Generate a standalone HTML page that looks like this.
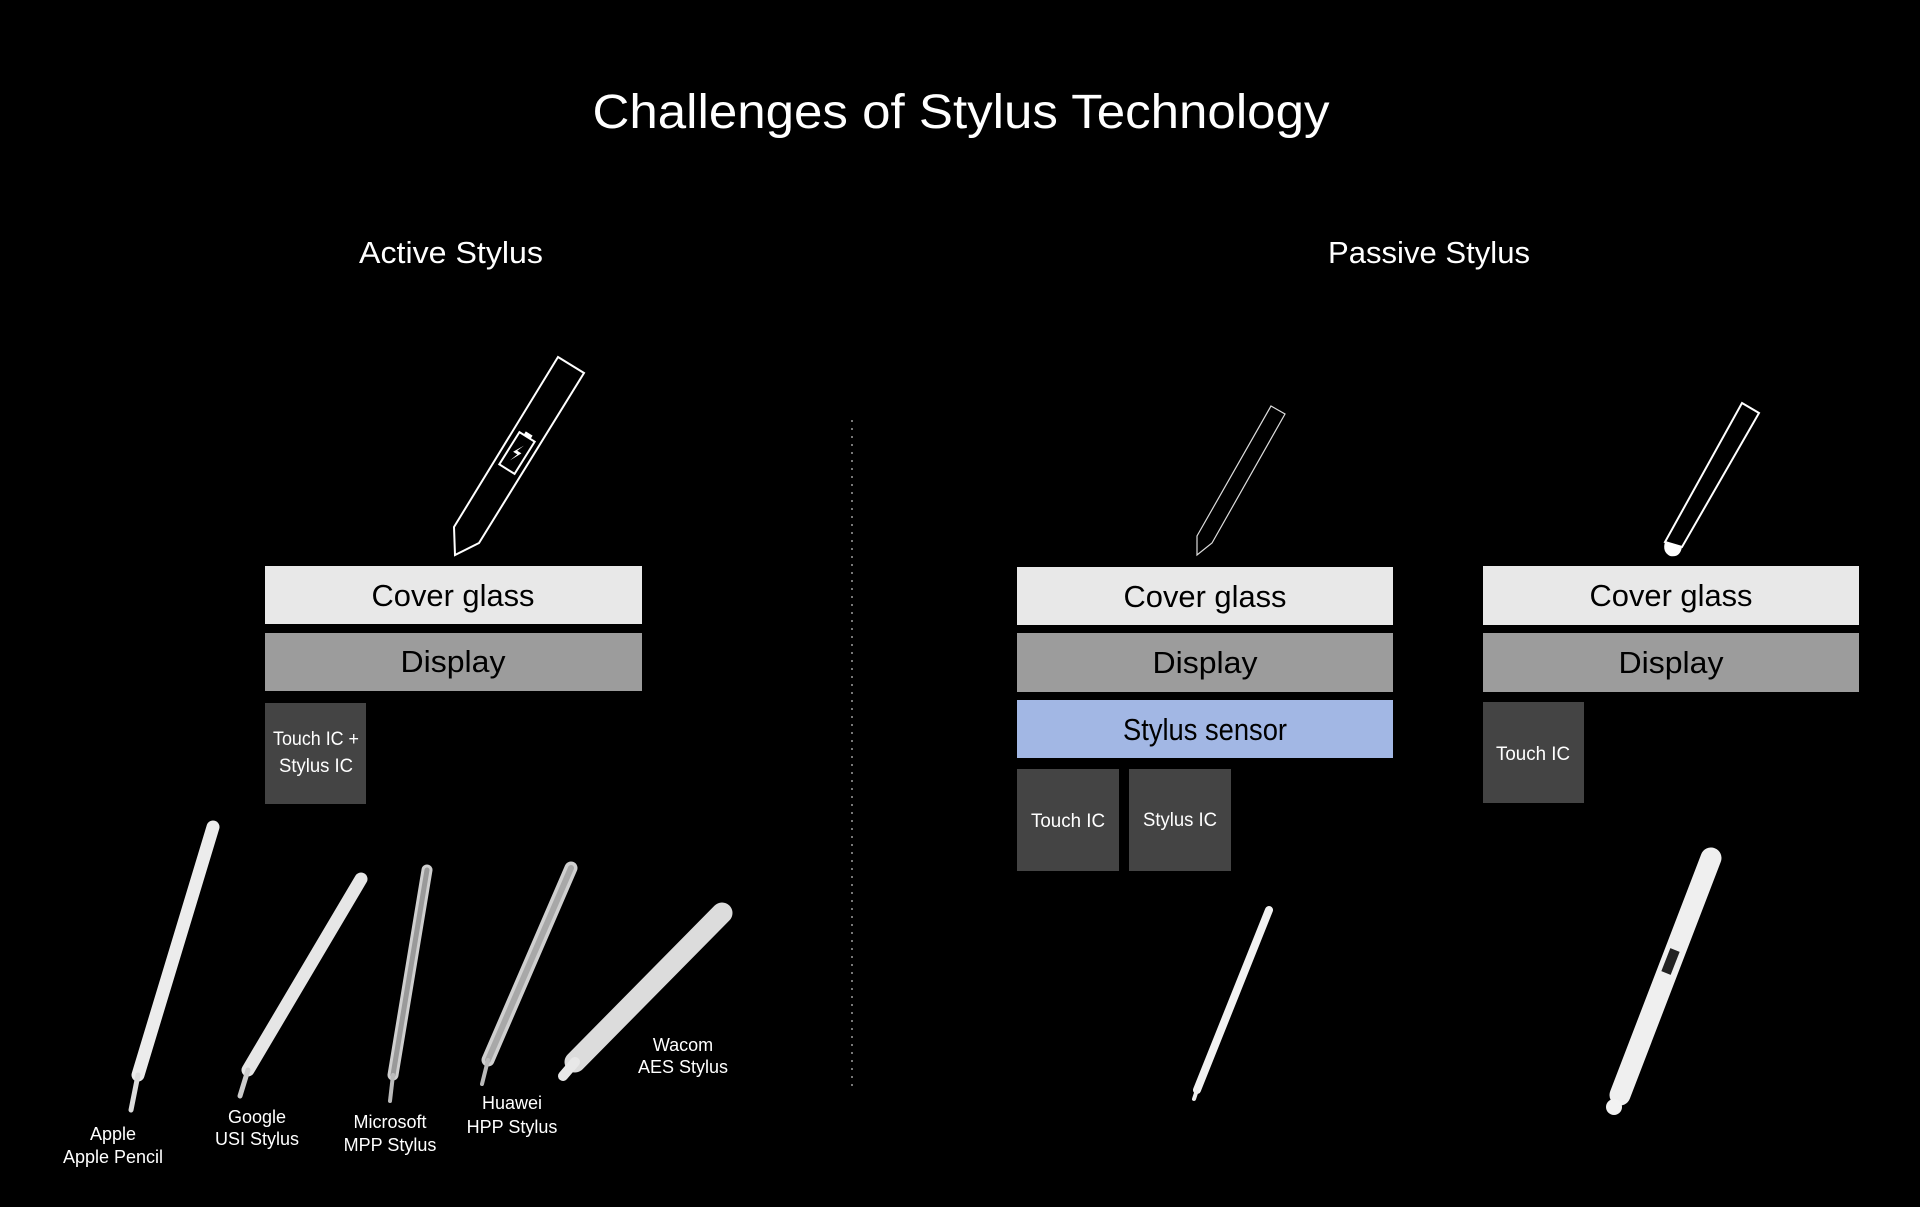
<!DOCTYPE html>
<html><head><meta charset="utf-8"><style>
html,body{margin:0;padding:0;background:#000;}
svg{display:block}
text{font-family:"Liberation Sans",sans-serif;}
</style></head><body>
<svg width="1920" height="1207" viewBox="0 0 1920 1207" xmlns="http://www.w3.org/2000/svg">
<rect width="1920" height="1207" fill="#000"/>
<text x="961" y="128" fill="#fff" font-size="48" text-anchor="middle" textLength="737" lengthAdjust="spacingAndGlyphs">Challenges of Stylus Technology</text>
<text x="451" y="263" fill="#fff" font-size="31" text-anchor="middle" textLength="184" lengthAdjust="spacingAndGlyphs">Active Stylus</text>
<text x="1429" y="263" fill="#fff" font-size="31" text-anchor="middle" textLength="202" lengthAdjust="spacingAndGlyphs">Passive Stylus</text>

<line x1="852" y1="420" x2="852" y2="1092" stroke="#777" stroke-width="2" stroke-dasharray="2,6"/>

<!-- Active stack -->
<polygon points="558,357 584,373 479,543 455,555 454,527" fill="none" stroke="#fff" stroke-width="2"/>
<g transform="translate(517,453) rotate(32)">
<rect x="-9" y="-19" width="18" height="38" fill="none" stroke="#fff" stroke-width="2"/>
<rect x="-4" y="-23" width="8" height="4" fill="#fff"/>
<path d="M2,-10 L-4,1 L1,1 L-2,10 L4,-2 L-1,-2 Z" fill="#fff"/>
</g>
<rect x="265" y="566" width="377" height="58" fill="#e8e8e8"/>
<text x="453" y="606" font-size="31" text-anchor="middle" fill="#000" textLength="163" lengthAdjust="spacingAndGlyphs">Cover glass</text>
<rect x="265" y="633" width="377" height="58" fill="#9c9c9c"/>
<text x="453" y="672" font-size="31" text-anchor="middle" fill="#000" textLength="105" lengthAdjust="spacingAndGlyphs">Display</text>
<rect x="265" y="703" width="101" height="101" fill="#444"/>
<text x="316" y="745" font-size="19" text-anchor="middle" fill="#fff" textLength="86" lengthAdjust="spacingAndGlyphs">Touch IC +</text>
<text x="316" y="772" font-size="19" text-anchor="middle" fill="#fff" textLength="74" lengthAdjust="spacingAndGlyphs">Stylus IC</text>

<!-- Passive col 1 -->
<polygon points="1271,406 1285,414 1212,543 1197,555 1197,536" fill="none" stroke="#ddd" stroke-width="1.2"/>
<rect x="1017" y="567" width="376" height="58" fill="#e8e8e8"/>
<text x="1205" y="607" font-size="31" text-anchor="middle" fill="#000" textLength="163" lengthAdjust="spacingAndGlyphs">Cover glass</text>
<rect x="1017" y="633" width="376" height="59" fill="#9c9c9c"/>
<text x="1205" y="673" font-size="31" text-anchor="middle" fill="#000" textLength="105" lengthAdjust="spacingAndGlyphs">Display</text>
<rect x="1017" y="700" width="376" height="58" fill="#a2b7e4"/>
<text x="1205" y="740" font-size="31" text-anchor="middle" fill="#000" textLength="164" lengthAdjust="spacingAndGlyphs">Stylus sensor</text>
<rect x="1017" y="769" width="102" height="102" fill="#444"/>
<text x="1068" y="827" font-size="19" text-anchor="middle" fill="#fff" textLength="74" lengthAdjust="spacingAndGlyphs">Touch IC</text>
<rect x="1129" y="769" width="102" height="102" fill="#444"/>
<text x="1180" y="826" font-size="19" text-anchor="middle" fill="#fff" textLength="74" lengthAdjust="spacingAndGlyphs">Stylus IC</text>

<!-- Passive col 2 -->
<polygon points="1742,403 1759,413 1682,547 1665,542" fill="none" stroke="#fff" stroke-width="2"/>
<path d="M1665,542 L1682,547 Q1680,558 1670,556 Q1662,552 1665,542 Z" fill="#fff"/>
<rect x="1483" y="566" width="376" height="59" fill="#e8e8e8"/>
<text x="1671" y="606" font-size="31" text-anchor="middle" fill="#000" textLength="163" lengthAdjust="spacingAndGlyphs">Cover glass</text>
<rect x="1483" y="633" width="376" height="59" fill="#9c9c9c"/>
<text x="1671" y="673" font-size="31" text-anchor="middle" fill="#000" textLength="105" lengthAdjust="spacingAndGlyphs">Display</text>
<rect x="1483" y="702" width="101" height="101" fill="#444"/>
<text x="1533" y="760" font-size="19" text-anchor="middle" fill="#fff" textLength="74" lengthAdjust="spacingAndGlyphs">Touch IC</text>

<!-- Pens -->
<g stroke-linecap="round">
<line x1="213" y1="827" x2="138" y2="1075" stroke="#ececec" stroke-width="13"/>
<line x1="138" y1="1075" x2="131" y2="1110" stroke="#ddd" stroke-width="5"/>
<line x1="361" y1="879" x2="248" y2="1070" stroke="#e6e6e6" stroke-width="13"/>
<line x1="248" y1="1070" x2="240" y2="1096" stroke="#ccc" stroke-width="5"/>
<line x1="427" y1="870" x2="393" y2="1075" stroke="#cfcfcf" stroke-width="11"/>
<line x1="427" y1="870" x2="393" y2="1075" stroke="#9a9a9a" stroke-width="5"/>
<line x1="393" y1="1075" x2="390" y2="1101" stroke="#bbb" stroke-width="4"/>
<line x1="571" y1="868" x2="488" y2="1060" stroke="#d0d0d0" stroke-width="13"/>
<line x1="571" y1="868" x2="488" y2="1060" stroke="#a8a8a8" stroke-width="6"/>
<line x1="488" y1="1060" x2="482" y2="1084" stroke="#bbb" stroke-width="4"/>
<line x1="722" y1="913" x2="575" y2="1062" stroke="#dcdcdc" stroke-width="21"/>
<line x1="575" y1="1062" x2="563" y2="1076" stroke="#e8e8e8" stroke-width="10"/>
<line x1="1269" y1="910" x2="1197" y2="1090" stroke="#f2f2f2" stroke-width="8"/>
<line x1="1197" y1="1090" x2="1194" y2="1099" stroke="#eee" stroke-width="4"/>
<line x1="1711" y1="858" x2="1620" y2="1095" stroke="#efefef" stroke-width="21"/>
<line x1="1675" y1="950" x2="1666" y2="973" stroke="#222" stroke-width="10" stroke-linecap="butt"/>
<circle cx="1614" cy="1107" r="8" fill="#f2f2f2"/>
</g>

<!-- Pen labels -->
<g font-size="18" fill="#fff" text-anchor="middle">
<text x="113" y="1140">Apple</text><text x="113" y="1163">Apple Pencil</text>
<text x="257" y="1123">Google</text><text x="257" y="1145">USI Stylus</text>
<text x="390" y="1128">Microsoft</text><text x="390" y="1151">MPP Stylus</text>
<text x="512" y="1109">Huawei</text><text x="512" y="1133">HPP Stylus</text>
<text x="683" y="1051">Wacom</text><text x="683" y="1073">AES Stylus</text>
</g>
</svg>
</body></html>
